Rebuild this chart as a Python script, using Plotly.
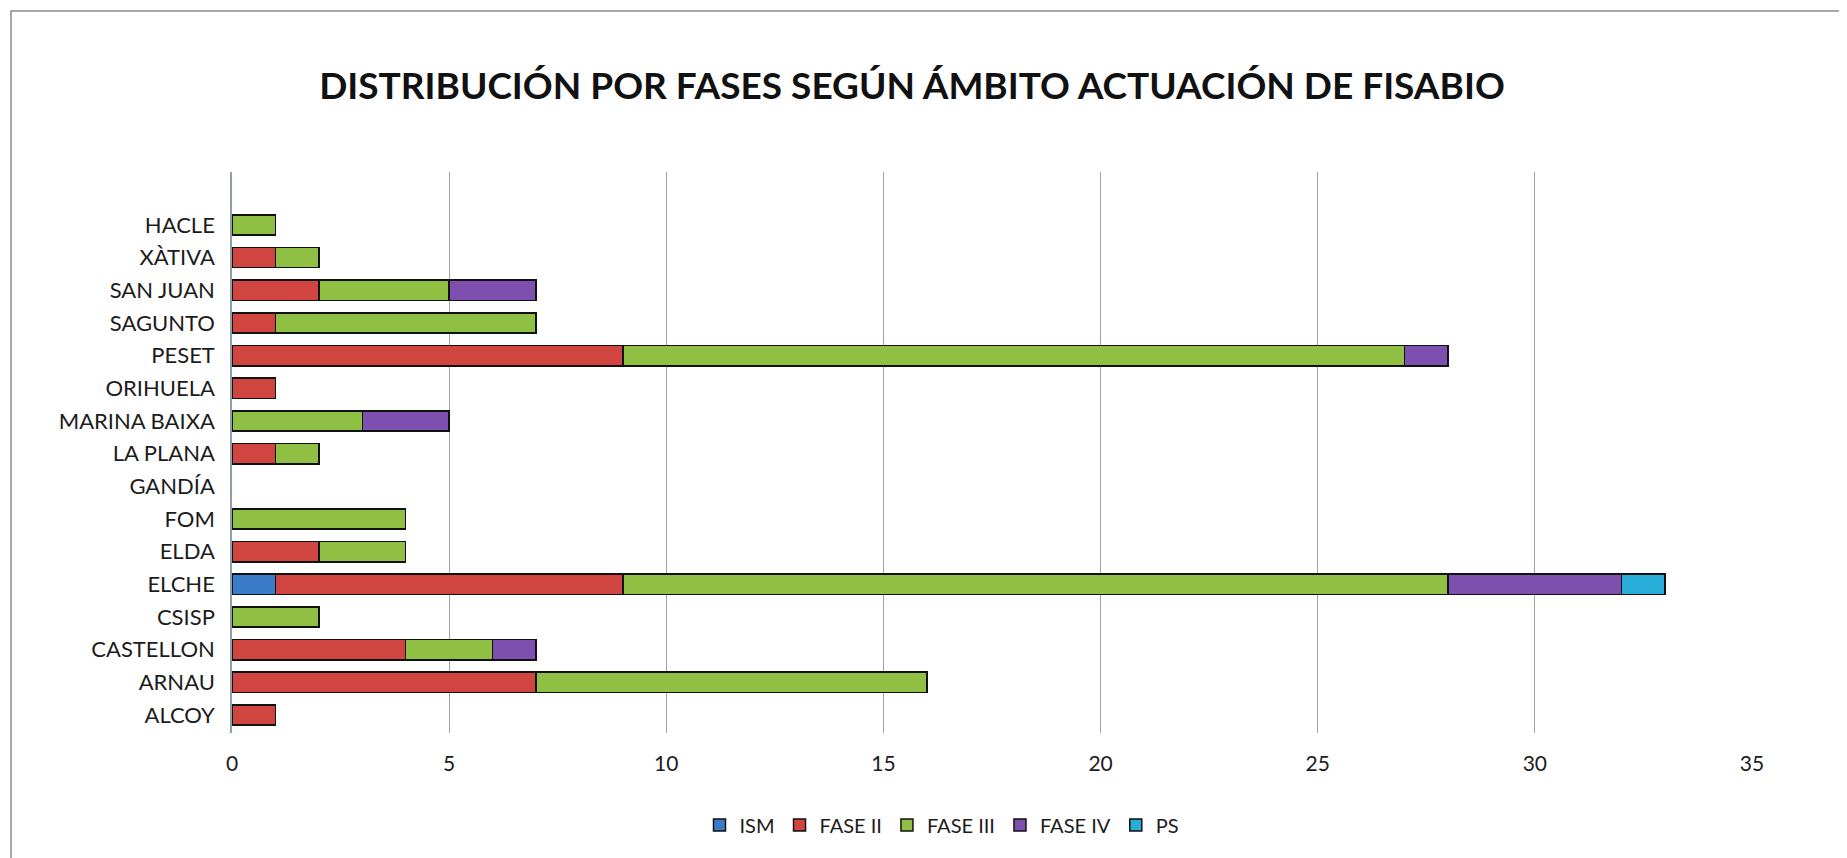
import plotly.graph_objects as go

categories = ["ALCOY", "ARNAU", "CASTELLON", "CSISP", "ELCHE", "ELDA", "FOM", "GANDÍA",
              "LA PLANA", "MARINA BAIXA", "ORIHUELA", "PESET", "SAGUNTO", "SAN JUAN", "XÀTIVA", "HACLE"]

ism      = [None, None, None, None, 1, None, None, None, None, None, None, None, None, None, None, None]
fase_ii  = [1, 7, 4, None, 8, 2, None, None, 1, None, 1, 9, 1, 2, 1, None]
fase_iii = [None, 9, 2, 2, 19, 2, 4, None, 1, 3, None, 18, 6, 3, 1, 1]
fase_iv  = [None, None, 1, None, 4, None, None, None, None, 2, None, 1, None, 2, None, None]
ps       = [None, None, None, None, 1, None, None, None, None, None, None, None, None, None, None, None]

series_names = ["ISM", "FASE II", "FASE III", "FASE IV", "PS"]
series_values = [ism, fase_ii, fase_iii, fase_iv, ps]
series_colors = ["#3a7cc8", "#d0453f", "#8fc043", "#7d4fae", "#28acd8"]

x_ticks = [0, 5, 10, 15, 20, 25, 30, 35]

fig = go.Figure()
for name, vals, col in zip(series_names, series_values, series_colors):
    fig.add_trace(go.Bar(
        y=categories, x=vals, name=name, orientation="h",
        marker=dict(color=col, line=dict(color="#111111", width=1.5)),
    ))

# page body has an 8px margin; compensate so the picture lines up with the window
OX, OY = 8, 8
W, H = 1847, 858
L, R, T, B = 232 - OX, 95 + OX, 172 - OY, 125 + OY
PW, PH = W - L - R, H - T - B

fig.update_layout(
    width=W, height=H,
    barmode="stack",
    bargap=0.38,
    plot_bgcolor="white",
    paper_bgcolor="white",
    margin=dict(l=L, r=R, t=T, b=B, autoexpand=False),
    font=dict(family="Lato, Carlito, sans-serif", color="#1c1c1c"),
    title=dict(
        text="<b>DISTRIBUCIÓN POR FASES SEGÚN ÁMBITO ACTUACIÓN DE FISABIO</b>",
        x=(912 - OX) / W, xanchor="center",
        y=1 - (86 - OY) / H, yanchor="middle",
        font=dict(family="Lato, sans-serif", size=37, color="#111111"),
    ),
    legend=dict(
        orientation="h",
        x=(942 - OX - L) / PW, xanchor="center",
        y=(H - B - (825 - OY)) / PH, yanchor="middle",
        traceorder="normal",
        font=dict(size=20, color="#1c1c1c"),
        itemwidth=30,
        bgcolor="rgba(0,0,0,0)",
    ),
    xaxis=dict(
        range=[0, 35],
        tickvals=x_ticks,
        showgrid=True, gridcolor="#a2a2a2", gridwidth=1,
        zeroline=False,
        showline=False,
        tickfont=dict(size=21, color="#1c1c1c"),
        ticks="", ticklabelstandoff=16,
        fixedrange=True,
    ),
    yaxis=dict(
        type="category",
        categoryorder="array", categoryarray=categories,
        range=[-0.55, 16.62],
        showgrid=False,
        showline=True, linecolor="#8aa0ad", linewidth=1.5,
        tickfont=dict(size=22, color="#1c1c1c"),
        ticks="", ticklabelstandoff=11,
        fixedrange=True,
    ),
    shapes=[dict(
        type="rect", xref="paper", yref="paper",
        x0=-(L - (11 - OX)) / PW, x1=(W - L + 20) / PW,
        y0=-(B + 20) / PH, y1=1 + (T - (11 - OY)) / PH,
        line=dict(color="#8c8c8c", width=1.5), fillcolor="rgba(0,0,0,0)",
        layer="below",
    )],
)

fig.write_html("out.html")
